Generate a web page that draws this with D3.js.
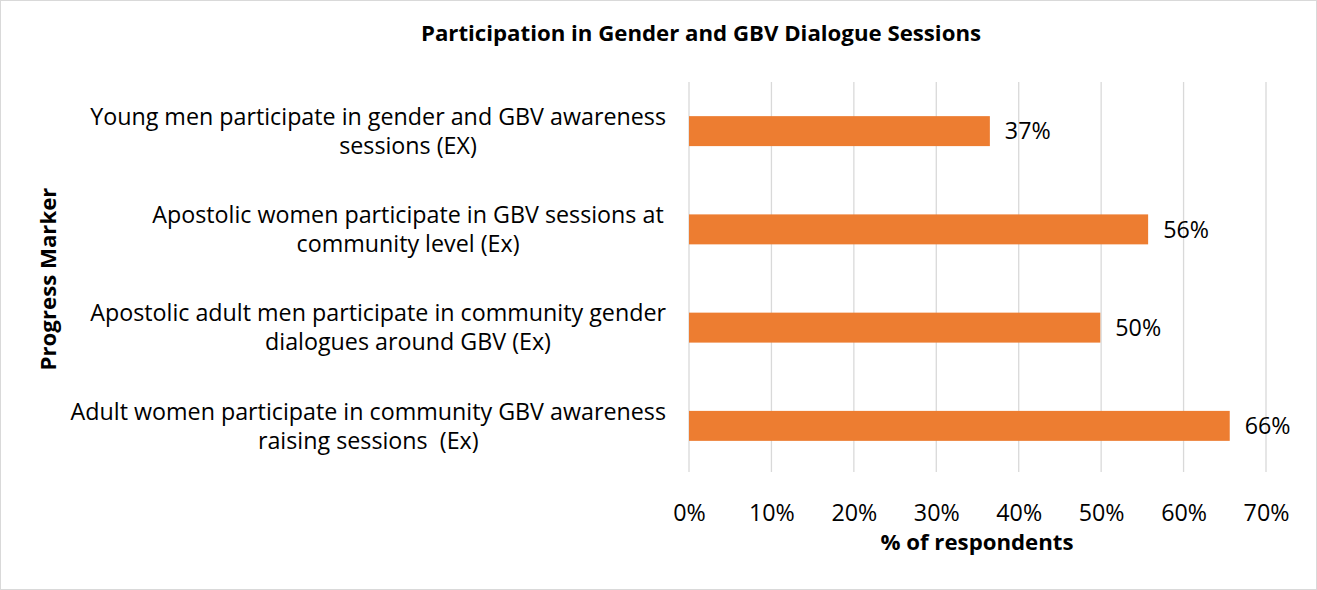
<!DOCTYPE html>
<html><head><meta charset="utf-8">
<script src="https://cdnjs.cloudflare.com/ajax/libs/d3/7.8.5/d3.min.js"></script>
<style>body{margin:0;background:#fff}svg{display:block}text{white-space:pre}</style>
</head><body>
<script>
const categories = [
  ["Young men participate in gender and GBV awareness", "sessions (EX)"],
  ["Apostolic women participate in GBV sessions at", "community level (Ex)"],
  ["Apostolic adult men participate in community gender", "dialogues around GBV (Ex)"],
  ["Adult women participate in community GBV awareness", "raising sessions  (Ex)"]
];
const values = [0.365, 0.557, 0.499, 0.656];
const valueLabels = ["37%", "56%", "50%", "66%"];
const xTicks = [0, 0.1, 0.2, 0.3, 0.4, 0.5, 0.6, 0.7];
const title = "Participation in Gender and GBV Dialogue Sessions";
const xTitle = "% of respondents";
const yTitle = "Progress Marker";

// style: whether a label's short lines follow the wide first line's centre
const followFirstLine = [false, false, false, true];

const W = 1317, H = 590;
const font = "'Open Sans', 'Noto Sans', sans-serif";
const svg = d3.select("body").append("svg").attr("width", W).attr("height", H)
  .style("font-family", font);

svg.append("rect").attr("x", 0.5).attr("y", 0.5).attr("width", W - 1).attr("height", H - 1)
  .attr("fill", "#fff").attr("stroke", "#d9d9d9");

const plot = {left: 689, right: 1266, top: 82, bottom: 475};
const x = d3.scaleLinear().domain([0, 0.7]).range([plot.left, plot.right]);
const y = d3.scaleBand().domain(d3.range(categories.length)).range([plot.top, plot.bottom]).paddingInner(0.695).paddingOuter(0.3475);

const probe = svg.append("text").attr("font-size", 20).text(categories[0][0]);
const fs = 20 * 576 / probe.node().getComputedTextLength();
probe.remove();

svg.append("g").selectAll("line").data(xTicks).join("line")
  .attr("x1", d => x(d)).attr("x2", d => x(d))
  .attr("y1", plot.top).attr("y2", 472)
  .attr("stroke", "#d9d9d9").attr("stroke-width", 1.3);

svg.append("g").selectAll("rect").data(values).join("rect")
  .attr("x", x(0)).attr("y", (d, i) => y(i))
  .attr("width", d => x(d) - x(0)).attr("height", y.bandwidth())
  .attr("fill", "#ED7D31");

svg.append("g").selectAll("text").data(values).join("text")
  .attr("x", d => x(d) + 15).attr("y", (d, i) => y(i) + y.bandwidth() / 2)
  .attr("dy", "0.35em").attr("font-size", fs).attr("fill", "#000")
  .text((d, i) => valueLabels[i]);

const xAxis = d3.axisBottom(x).tickValues(xTicks).tickFormat(d3.format(".0%")).tickSize(0).tickPadding(0);
const gx = svg.append("g").attr("transform", `translate(0,${500})`).call(xAxis);
gx.select(".domain").remove();
gx.selectAll("text").attr("font-size", fs).attr("font-family", font).attr("fill", "#000").attr("dy", "0.9em");

const boxCenter = 408, boxRight = 666, boxW = 516;
const cg = svg.append("g");
categories.forEach((lines, i) => {
  const cy = y(i) + y.bandwidth() / 2;
  let firstCenter = boxCenter;
  lines.forEach((ln, j) => {
    const t = cg.append("text").attr("font-size", fs).attr("fill", "#000")
      .attr("y", cy + (j - 0.5) * 29).attr("dy", "0.35em").text(ln);
    const w = t.node().getComputedTextLength();
    if (w > boxW) {
      t.attr("x", boxRight).attr("text-anchor", "end");
      if (j === 0) firstCenter = boxRight - w / 2;
    } else {
      t.attr("x", followFirstLine[i] ? firstCenter : boxCenter).attr("text-anchor", "middle");
    }
  });
});

svg.append("text").attr("x", 701).attr("y", 33).attr("dy", "0.35em").attr("text-anchor", "middle")
  .attr("font-size", fs * 0.955).attr("font-weight", "bold").text(title);
svg.append("text").attr("x", 977).attr("y", 542).attr("dy", "0.35em").attr("text-anchor", "middle")
  .attr("font-size", fs * 0.955).attr("font-weight", "bold").text(xTitle);
svg.append("text").attr("transform", "translate(48,279) rotate(-90)").attr("dy", "0.35em")
  .attr("text-anchor", "middle").attr("font-size", fs * 0.955).attr("font-weight", "bold").text(yTitle);
</script>
</body></html>
